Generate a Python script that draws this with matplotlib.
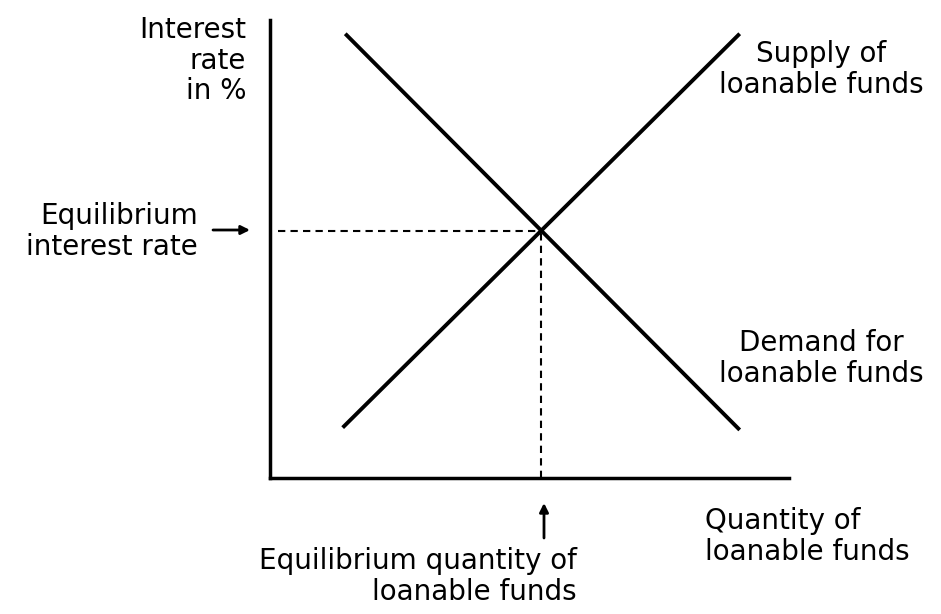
import matplotlib
matplotlib.use("Agg")
import matplotlib.pyplot as plt

plt.rcParams['font.family'] = ['DejaVu Sans']

# loanable funds market: two straight curves (quantity, interest rate)
supply_q = [1.4, 9.05]
supply_r = [1.1, 9.7]
demand_q = [1.45, 9.05]
demand_r = [9.7, 1.05]

W, H = 941, 614


def px(x, y):
    # pixel position (from top-left) -> figure fraction
    return x / W, 1 - y / H


def crossing(q1, r1, q2, r2):
    a1 = (r1[1] - r1[0]) / (q1[1] - q1[0])
    a2 = (r2[1] - r2[0]) / (q2[1] - q2[0])
    b1 = r1[0] - a1 * q1[0]
    b2 = r2[0] - a2 * q2[0]
    q = (b2 - b1) / (a1 - a2)
    return q, a1 * q + b1


eq_q, eq_r = crossing(supply_q, supply_r, demand_q, demand_r)

fig = plt.figure(figsize=(W / 100, H / 100), dpi=100)
left, bottom = px(270, 478)
right, top = px(789, 20)
ax = fig.add_axes([left, bottom, right - left, top - bottom])
ax.set_xlim(0, 10)
ax.set_ylim(0, 10)
for side in ('top', 'right'):
    ax.spines[side].set_visible(False)
for side in ('left', 'bottom'):
    ax.spines[side].set_linewidth(2.5)
ax.set_xticks([])
ax.set_yticks([])

ax.plot(supply_q, supply_r, color='black', lw=2.8, solid_capstyle='butt', clip_on=False)
ax.plot(demand_q, demand_r, color='black', lw=2.8, solid_capstyle='butt', clip_on=False)

ax.plot([0.15, eq_q], [eq_r, eq_r], color='black', lw=1.5, ls=(0, (3.5, 2.5)))
ax.plot([eq_q, eq_q], [0, eq_r], color='black', lw=1.5, ls=(0, (3.5, 2.5)))

fs = 20
ls = 1.12
fig.text(*px(246, 16), "Interest\nrate\nin %", ha='right', va='top',
         multialignment='right', fontsize=fs, linespacing=ls)
fig.text(*px(198, 202), "Equilibrium\ninterest rate", ha='right', va='top',
         multialignment='right', fontsize=fs, linespacing=ls)
fig.text(*px(821, 40), "Supply of\nloanable funds", ha='center', va='top',
         multialignment='center', fontsize=fs, linespacing=ls)
fig.text(*px(821, 329), "Demand for\nloanable funds", ha='center', va='top',
         multialignment='center', fontsize=fs, linespacing=ls)
fig.text(*px(705, 507), "Quantity of\nloanable funds", ha='left', va='top',
         multialignment='left', fontsize=fs, linespacing=ls)
fig.text(*px(577, 547), "Equilibrium quantity of\nloanable funds", ha='right',
         va='top', multialignment='right', fontsize=fs, linespacing=ls)

# small arrows pointing at the equilibrium values
ax.annotate("", xy=px(250, 230), xycoords='figure fraction',
            xytext=px(213, 230), textcoords='figure fraction',
            arrowprops=dict(arrowstyle='-|>', color='black', lw=2.0,
                            mutation_scale=13, shrinkA=0, shrinkB=0))
ax.annotate("", xy=px(544, 503), xycoords='figure fraction',
            xytext=px(544, 538), textcoords='figure fraction',
            arrowprops=dict(arrowstyle='-|>', color='black', lw=2.0,
                            mutation_scale=13, shrinkA=0, shrinkB=0))

fig.savefig("out.png", dpi=100)
